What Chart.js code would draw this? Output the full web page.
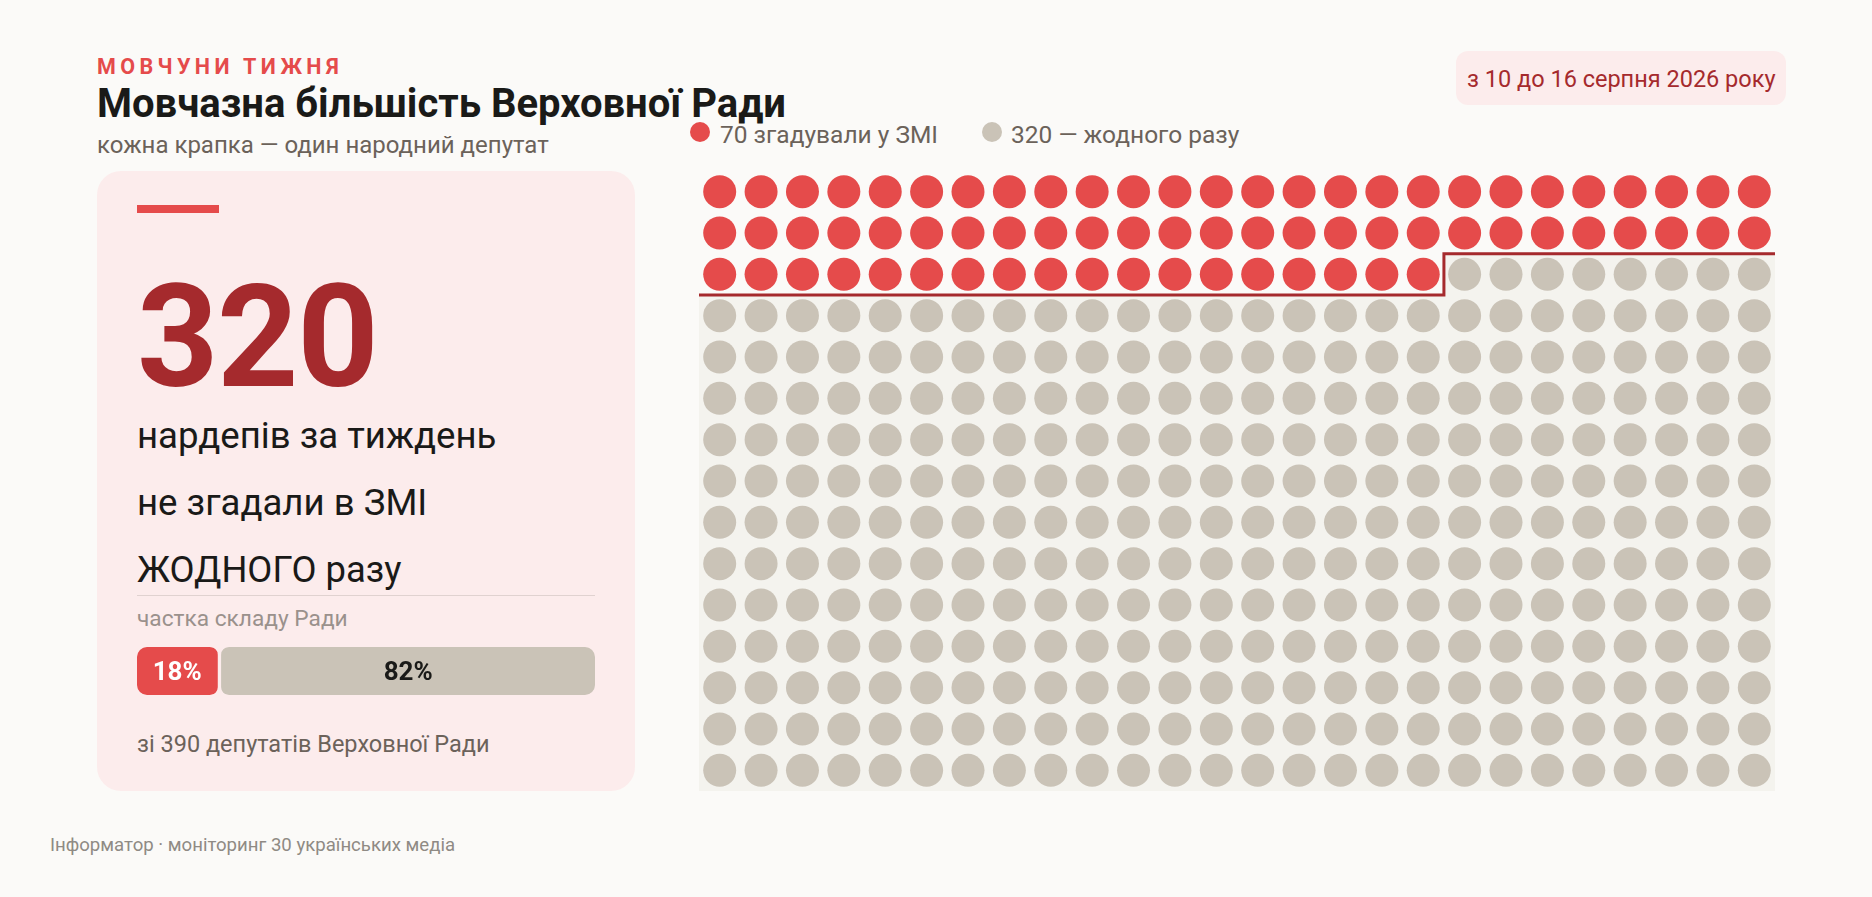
<!DOCTYPE html>
<html lang="uk">
<head>
<meta charset="utf-8">
<title>Мовчазна більшість Верховної Ради</title>
<script src="https://cdn.jsdelivr.net/npm/chart.js@4/dist/chart.umd.min.js"></script>
<style>
  html, body { margin: 0; height: 100%; background: #fbfaf8; overflow: hidden; }
  body { position: relative; width: 1872px; height: 897px; font-family: Roboto, sans-serif; color: #1a1a18; }
  /* --b is the text baseline, 0.8418em is Roboto's baseline at line-height 1 */
  .t { position: absolute; line-height: 1; white-space: nowrap; top: calc(var(--b) - .8418em); }
  .box { position: absolute; }
  .swatch { position: absolute; top: 122px; width: 20px; height: 20px; border-radius: 50%; }
  .legend-text { --b: 144px; font-size: 24.5px; color: #6b625a; }
  canvas { position: absolute; }
</style>
</head>
<body>
  <div class="t" style="--b:74px;left:97px;font-size:21.5px;font-weight:700;letter-spacing:4.4px;color:#e54b4b">МОВЧУНИ ТИЖНЯ</div>
  <div class="t" style="--b:118px;left:97px;font-size:40px;font-weight:700">Мовчазна більшість Верховної Ради</div>
  <div class="t" style="--b:153px;left:97px;font-size:24px;color:#6b625a">кожна крапка — один народний депутат</div>

  <div class="box" style="left:1456px;top:51px;width:330px;height:54px;background:#fcecec;border-radius:12px"></div>
  <div class="t" style="--b:88px;left:1467px;font-size:23.5px;color:#a52a2d">з 10 до 16 серпня 2026 року</div>

  <div class="swatch" style="left:690px;background:#e54b4b"></div>
  <div class="t legend-text" id="legendA" style="left:720px"></div>
  <div class="swatch" style="left:982px;background:#cac3b7"></div>
  <div class="t legend-text" id="legendB" style="left:1011px"></div>

  <div class="box" style="left:97px;top:171px;width:538px;height:620px;background:#fcecec;border-radius:24px"></div>
  <div class="box" style="left:137px;top:205px;width:82px;height:8px;background:#e54b4b"></div>
  <div class="t" style="--b:387px;left:137px;font-size:142px;font-weight:700;letter-spacing:-1.4px;color:#a52a2d">320</div>
  <div class="t" style="--b:449px;left:137px;font-size:36.6px">нардепів за тиждень</div>
  <div class="t" style="--b:516px;left:137px;font-size:36.6px">не згадали в ЗМІ</div>
  <div class="t" style="--b:583px;left:137px;font-size:36.4px">ЖОДНОГО разу</div>
  <div class="box" style="left:137px;top:595px;width:458px;height:1px;background:#e0d2d0"></div>
  <div class="t" style="--b:627px;left:137px;font-size:22.7px;color:#9a918c">частка складу Ради</div>
  <canvas id="shareChart" style="left:137px;top:647px"></canvas>
  <div class="t" style="--b:753px;left:137px;font-size:23.5px;color:#6b625a">зі 390 депутатів Верховної Ради</div>

  <div class="t" style="--b:852px;left:50px;font-size:18.6px;color:#8f8a84">Інформатор · моніторинг 30 українських медіа</div>

  <canvas id="dotChart" style="left:699px;top:171px"></canvas>

<script>
// rows of 26 seats, 390 in total
const columnCount = 26;
const mentionedPerRow = [26, 26, 18, 0, 0, 0, 0, 0, 0, 0, 0, 0, 0, 0, 0];
const silentPerRow = [0, 0, 8, 26, 26, 26, 26, 26, 26, 26, 26, 26, 26, 26, 26];
const legendLabels = ['70 згадували у ЗМІ', '320 — жодного разу'];
const stepX = [0, 18, 18, 26];
const stepY = [3, 3, 2, 2];
const shareLabels = ['18%', '82%'];
const shareValues = [18, 82];

const RED = '#e54b4b';
const DARK_RED = '#a52a2d';
const STONE = '#cac3b7';
const CARD = '#fcecec';

document.getElementById('legendA').textContent = legendLabels[0];
document.getElementById('legendB').textContent = legendLabels[1];

const mentionedDots = [];
const silentDots = [];
mentionedPerRow.forEach((count, row) => {
  for (let c = 0; c < count; c++) mentionedDots.push({ x: c + 0.5, y: row + 0.5 });
  for (let c = count; c < count + silentPerRow[row]; c++) silentDots.push({ x: c + 0.5, y: row + 0.5 });
});

Chart.defaults.font.family = 'Roboto, sans-serif';
Chart.defaults.animation = false;
Chart.defaults.responsive = false;
Chart.defaults.devicePixelRatio = 1;

const dotCanvas = document.getElementById('dotChart');
dotCanvas.width = 1076;
dotCanvas.height = 620;

new Chart(dotCanvas, {
  type: 'scatter',
  data: {
    datasets: [
      { data: silentDots, backgroundColor: STONE, pointRadius: 16.5, pointBorderWidth: 0, order: 2 },
      { data: mentionedDots, backgroundColor: RED, pointRadius: 16.5, pointBorderWidth: 0, order: 1 },
      {
        // boundary between the two groups, the area below it is tinted
        data: stepX.map((x, i) => ({ x, y: stepY[i] })),
        showLine: true,
        pointRadius: 0,
        borderColor: DARK_RED,
        borderWidth: 3,
        fill: 'start',
        backgroundColor: '#f4f3ee',
        order: 3
      }
    ]
  },
  options: {
    layout: { padding: 0, autoPadding: false },
    scales: {
      x: { type: 'linear', display: false, min: 0, max: columnCount },
      y: { type: 'linear', display: false, reverse: true, min: 0, max: mentionedPerRow.length }
    },
    plugins: { legend: { display: false }, tooltip: { enabled: false } }
  }
});

// percentages printed in the middle of each bar
const shareText = {
  id: 'shareText',
  afterDatasetsDraw(chart) {
    const { ctx } = chart;
    ctx.save();
    ctx.font = '700 26px Roboto, sans-serif';
    ctx.textAlign = 'center';
    ctx.textBaseline = 'middle';
    chart.data.datasets.forEach((ds, i) => {
      const bar = chart.getDatasetMeta(i).data[0];
      ctx.fillStyle = i === 0 ? '#ffffff' : '#1a1a18';
      ctx.fillText(shareLabels[i], (bar.base + bar.x) / 2 + (i === 0 ? -1 : 1), bar.y + 2);
    });
    ctx.restore();
  }
};

const shareCanvas = document.getElementById('shareChart');
shareCanvas.width = 458;
shareCanvas.height = 48;

new Chart(shareCanvas, {
  type: 'bar',
  plugins: [shareText],
  data: {
    labels: ['склад Ради'],
    datasets: [
      { data: [[0, shareValues[0]]], backgroundColor: RED, borderColor: CARD, borderWidth: { right: 2 }, borderRadius: 10, borderSkipped: false },
      { data: [[shareValues[0], shareValues[0] + shareValues[1]]], backgroundColor: STONE, borderColor: CARD, borderWidth: { left: 2 }, borderRadius: 10, borderSkipped: false }
    ]
  },
  options: {
    indexAxis: 'y',
    layout: { padding: 0, autoPadding: false },
    datasets: { bar: { barPercentage: 1, categoryPercentage: 1, grouped: false } },
    scales: {
      x: { display: false, min: 0, max: 100 },
      y: { display: false }
    },
    plugins: { legend: { display: false }, tooltip: { enabled: false } }
  }
});
</script>
</body>
</html>
